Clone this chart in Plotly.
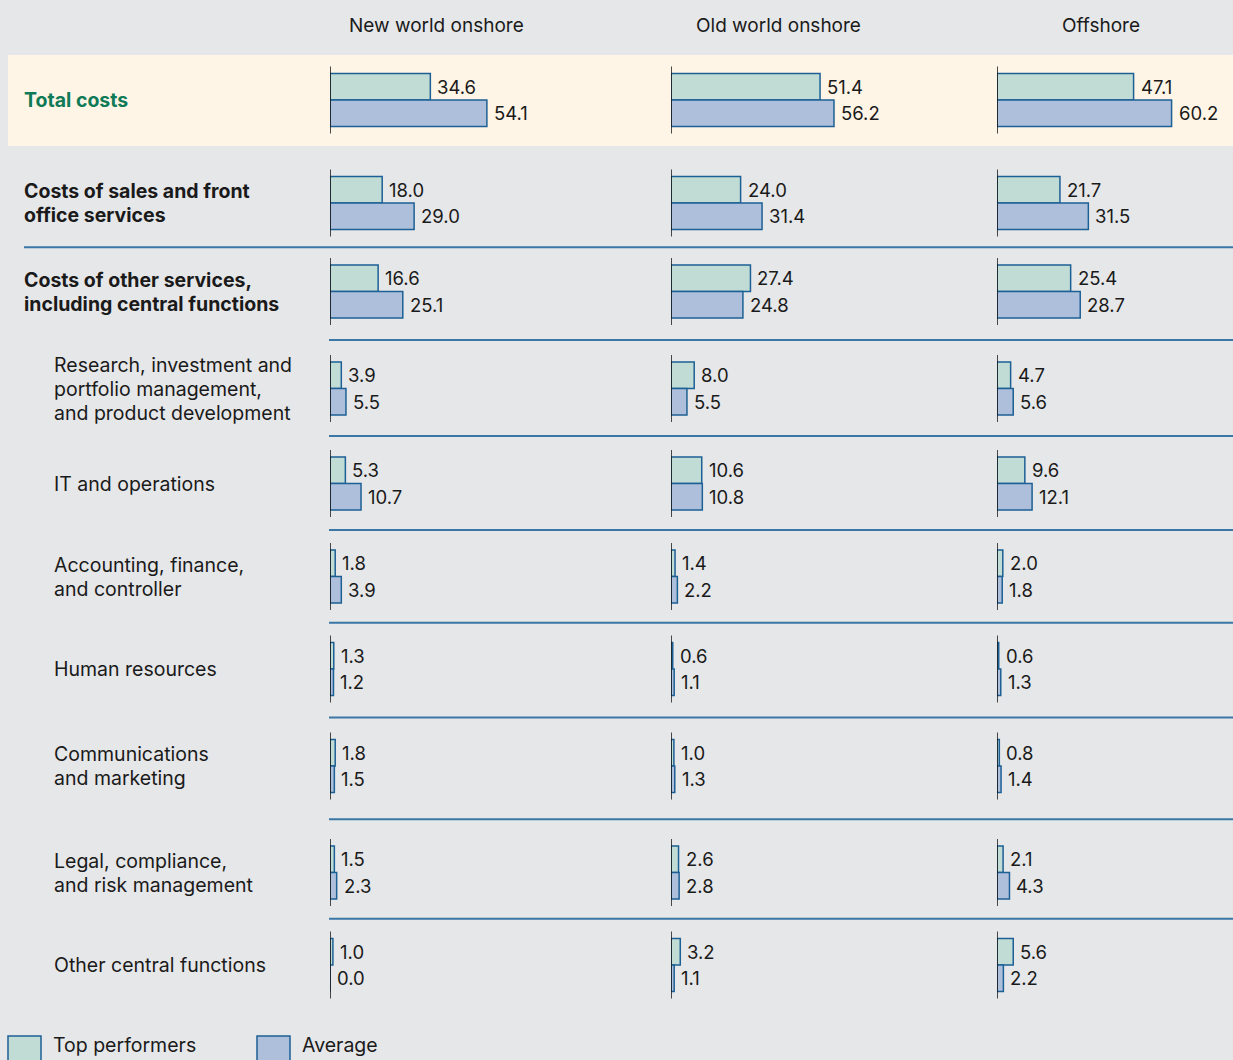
import plotly.graph_objects as go

# ---------------- data ----------------
columns = ["New world onshore", "Old world onshore", "Offshore"]
categories = [
    "Total costs",
    "Costs of sales and front<br>office services",
    "Costs of other services,<br>including central functions",
    "Research, investment and<br>portfolio management,<br>and product development",
    "IT and operations",
    "Accounting, finance,<br>and controller",
    "Human resources",
    "Communications<br>and marketing",
    "Legal, compliance,<br>and risk management",
    "Other central functions",
]
series_names = ["Top performers", "Average"]

top_new = [34.6, 18.0, 16.6, 3.9, 5.3, 1.8, 1.3, 1.8, 1.5, 1.0]
avg_new = [54.1, 29.0, 25.1, 5.5, 10.7, 3.9, 1.2, 1.5, 2.3, 0.0]
top_old = [51.4, 24.0, 27.4, 8.0, 10.6, 1.4, 0.6, 1.0, 2.6, 3.2]
avg_old = [56.2, 31.4, 24.8, 5.5, 10.8, 2.2, 1.1, 1.3, 2.8, 1.1]
top_off = [47.1, 21.7, 25.4, 4.7, 9.6, 2.0, 0.6, 0.8, 2.1, 5.6]
avg_off = [60.2, 31.5, 28.7, 5.6, 12.1, 1.8, 1.3, 1.4, 4.3, 2.2]

# ---------------- layout / style ----------------
W, H = 1233, 1060
FONT = "Inter"
BG = "#e6e7e9"
CREAM = "#fef5e6"
TOP_FILL = "#c0dcd5"
AVG_FILL = "#adbfdb"
OUTLINE = "#1d6095"
SEP = "#3a77a6"
TXT = "#1a1a1a"
GREEN = "#0f7a57"

row_centres = [100, 203, 291.5, 388.5, 483.5, 576.5, 669, 766, 872.5, 965]
bar_h = 26.5
px_per_unit = 2.9
col_left = [330, 671, 997]
col_right = [655, 985, 1233]
header_x = [436, 778, 1101]
bold_rows = {0, 1, 2}

col_data = [(top_new, avg_new), (top_old, avg_old), (top_off, avg_off)]
fills = [TOP_FILL, AVG_FILL]

fig = go.Figure()
axis_names = ["x", "x2", "x3"]

for ci, (tops, avgs) in enumerate(col_data):
    for si, vals in enumerate((tops, avgs)):
        ys = [c + (si - 0.5) * bar_h for c in row_centres]
        fig.add_trace(go.Bar(
            x=vals, y=ys, orientation="h", width=bar_h,
            xaxis=axis_names[ci], yaxis="y",
            marker=dict(color=fills[si], line=dict(color=OUTLINE, width=1.5)),
            name=series_names[si], showlegend=False, hoverinfo="skip",
        ))
        for v, y in zip(vals, ys):
            fig.add_annotation(
                x=v, y=y, xref=axis_names[ci], yref="y",
                text=f"{v:.1f}", showarrow=False, xanchor="left", yanchor="middle",
                xshift=5, font=dict(family=FONT, size=18.5, color=TXT),
            )

shapes = []
# cream band for total costs
shapes.append(dict(type="rect", xref="paper", yref="y", x0=8 / W, x1=1, y0=55, y1=146,
                   fillcolor=CREAM, line=dict(width=0), layer="below"))

# zero axis lines per column and row
for ci in range(3):
    for c in row_centres:
        shapes.append(dict(type="line", xref=axis_names[ci], yref="y", x0=0, x1=0,
                           y0=c - bar_h - 7, y1=c + bar_h + 7,
                           line=dict(color="#111111", width=1.5), layer="above"))

# separators between rows
for i in range(1, len(row_centres) - 1):
    yb = (row_centres[i] + row_centres[i + 1]) / 2
    x0 = 24 if i == 1 else 329
    shapes.append(dict(type="line", xref="paper", yref="y", x0=x0 / W, x1=1,
                       y0=yb, y1=yb, line=dict(color=SEP, width=1.8)))

# legend swatches
leg_x = [8, 257]
for li in range(2):
    shapes.append(dict(type="rect", xref="paper", yref="y",
                       x0=leg_x[li] / W, x1=(leg_x[li] + 33) / W, y0=1036, y1=1070,
                       fillcolor=fills[li], line=dict(color=OUTLINE, width=1.5)))
    fig.add_annotation(x=(leg_x[li] + 43) / W, y=1045, xref="paper", yref="y",
                       text=series_names[li], showarrow=False, xanchor="left",
                       yanchor="middle", font=dict(family=FONT, size=19.5, color=TXT))

# column headers
for ci, name in enumerate(columns):
    fig.add_annotation(x=header_x[ci] / W, y=25, xref="paper", yref="y", text=name,
                       showarrow=False, xanchor="center", yanchor="middle",
                       font=dict(family=FONT, size=19, color=TXT))

# row labels: base font sets the line spacing, spans set the glyph size
for ri, cat in enumerate(categories):
    lines = cat.split("<br>")
    x = 22 if ri in bold_rows else 52
    parts = []
    for line in lines:
        inner = f"<b>{line}</b>" if ri in bold_rows else line
        parts.append(f"<span style='font-size:19.5px'>{inner}</span>")
    color = GREEN if ri == 0 else TXT
    fig.add_annotation(x=x / W, y=row_centres[ri], xref="paper", yref="y",
                       text="<br>".join(parts), align="left",
                       showarrow=False, xanchor="left", yanchor="middle",
                       font=dict(family=FONT, size=18.4, color=color))

axis_common = dict(visible=False, showgrid=False, zeroline=False, fixedrange=True)
layout_axes = {}
for ci, an in enumerate(axis_names):
    key = "xaxis" if an == "x" else "xaxis" + an[1:]
    span = col_right[ci] - col_left[ci]
    layout_axes[key] = dict(domain=[col_left[ci] / W, col_right[ci] / W],
                            range=[0, span / px_per_unit], anchor="y", **axis_common)

fig.update_layout(
    width=W, height=H,
    margin=dict(l=0, r=0, t=0, b=0, pad=0),
    paper_bgcolor=BG, plot_bgcolor=BG,
    barmode="overlay",
    showlegend=False,
    yaxis=dict(domain=[0, 1], range=[H, 0], visible=False, showgrid=False,
               zeroline=False, fixedrange=True),
    shapes=shapes,
    font=dict(family=FONT, color=TXT),
    **layout_axes,
)

fig.write_html("out.html", config={"displayModeBar": False},
               post_script="document.body.style.margin='0';document.body.style.overflow='hidden';")
